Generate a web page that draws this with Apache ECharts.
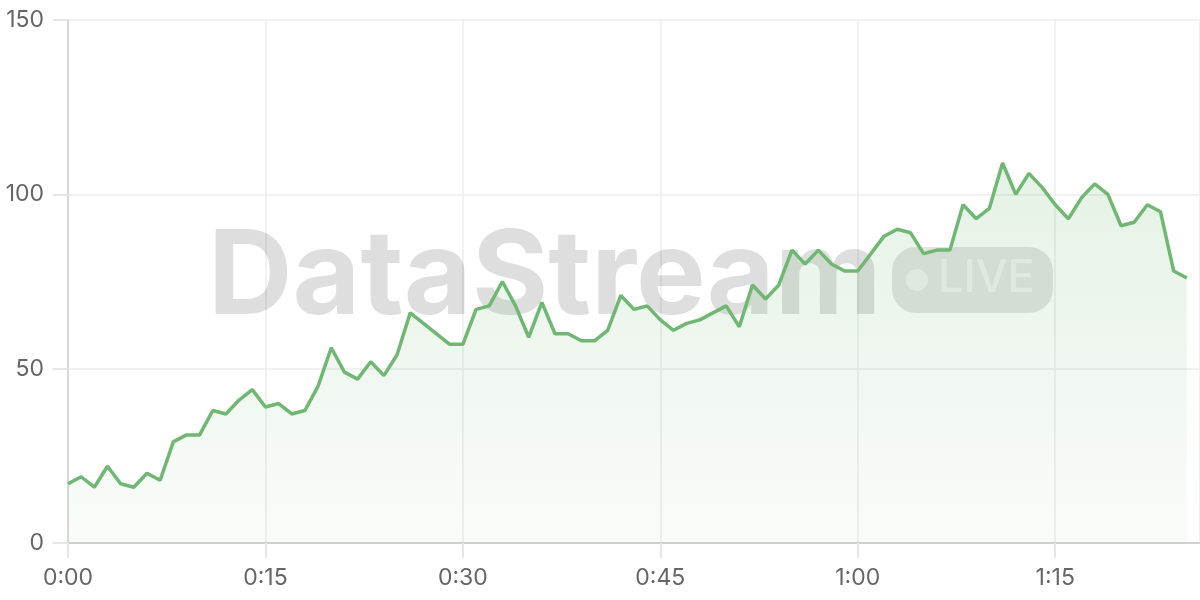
<!DOCTYPE html>
<html>
<head>
<meta charset="utf-8">
<script src="https://cdn.jsdelivr.net/npm/echarts@6/dist/echarts.min.js"></script>
<style>
  html, body { margin: 0; padding: 0; background: #ffffff; }
  #chart { width: 1200px; height: 600px; }
</style>
</head>
<body>
<div id="chart"></div>
<script>
// minutes since start
const minutes = [
  0,1,2,3,4,5,6,7,8,9,10,11,12,13,14,15,16,17,18,19,20,21,22,23,24,25,26,27,28,29,
  30,31,32,33,34,35,36,37,38,39,40,41,42,43,44,45,46,47,48,49,50,51,52,53,54,55,56,57,58,59,
  60,61,62,63,64,65,66,67,68,69,70,71,72,73,74,75,76,77,78,79,80,81,82,83,84,85
];
const values = [
  17,19,16,22,17,16,20,18,29,31,31,38,37,41,44,39,40,37,38,45,56,49,47,52,48,54,66,63,60,57,
  57,67,68,75,68,59,69,60,60,58,58,61,71,67,68,64,61,63,64,66,68,62,74,70,74,84,80,84,80,78,
  78,83,88,90,89,83,84,84,97,93,96,109,100,106,102,97,93,99,103,100,91,92,97,95,78,76
];
const yTicks = [0, 50, 100, 150];
const xTickMinutes = [0, 15, 30, 45, 60, 75];

const seriesData = minutes.map((m, i) => [m, values[i]]);
function fmtTime(m) {
  const h = Math.floor(m / 60);
  const mm = m % 60;
  return h + ':' + (mm < 10 ? '0' : '') + mm;
}

const chart = echarts.init(document.getElementById('chart'), null, { renderer: 'canvas' });
const FONT = 'Inter, "Noto Sans", sans-serif';
chart.setOption({
  animation: false,
  backgroundColor: '#ffffff',
  grid: { left: 68, right: 0, top: 20, bottom: 57, containLabel: false },
  xAxis: {
    type: 'value',
    min: 0,
    max: 86,
    interval: 15,
    axisLine: { show: true, lineStyle: { color: '#d0d0d0', width: 2 } },
    axisTick: { show: true, length: 15, lineStyle: { color: '#e6e6e6', width: 2 } },
    splitLine: { show: true, lineStyle: { color: '#ececec', width: 1.5 } },
    axisLabel: {
      margin: 24,
      color: '#666666',
      fontSize: 23,
      fontFamily: FONT,
      showMaxLabel: false,
      formatter: function (v) { return xTickMinutes.indexOf(v) >= 0 ? fmtTime(v) : ''; }
    }
  },
  yAxis: {
    type: 'value',
    min: 0,
    max: 150,
    interval: 50,
    axisLine: { show: true, lineStyle: { color: '#d8d8d8', width: 2 } },
    axisTick: { show: true, length: 15, lineStyle: { color: '#e6e6e6', width: 2 } },
    splitLine: { show: true, lineStyle: { color: '#ececec', width: 1.5 } },
    axisLabel: {
      margin: 24,
      color: '#666666',
      fontSize: 23,
      fontFamily: FONT,
      formatter: function (v) { return yTicks.indexOf(v) >= 0 ? String(v) : ''; }
    }
  },
  graphic: [
    {
      type: 'text',
      z: 1,
      left: 208,
      top: 220,
      style: {
        text: 'DataStream',
        font: 'bold 117px Inter, Roboto, sans-serif',
        fill: 'rgba(0,0,0,0.13)'
      }
    },
    {
      type: 'rect',
      z: 1,
      shape: { x: 892, y: 247, width: 161, height: 66, r: 24 },
      style: { fill: 'rgba(0,0,0,0.11)' }
    },
    {
      type: 'circle',
      z: 1,
      shape: { cx: 917, cy: 280, r: 11 },
      style: { fill: 'rgba(255,255,255,0.5)' }
    },
    {
      type: 'text',
      z: 1,
      left: 938,
      top: 256,
      style: {
        text: 'LIVE',
        font: '500 45px Inter, sans-serif',
        fill: 'rgba(255,255,255,0.5)'
      }
    }
  ],
  series: [{
    type: 'line',
    data: seriesData,
    showSymbol: false,
    smooth: false,
    z: 3,
    lineStyle: { color: '#70b773', width: 3.5 },
    itemStyle: { color: '#70b773' },
    areaStyle: {
      color: new echarts.graphic.LinearGradient(0, 0, 0, 1, [
        { offset: 0, color: 'rgba(109,181,111,0.25)' },
        { offset: 1, color: 'rgba(109,181,111,0.06)' }
      ])
    }
  }]
});
</script>
</body>
</html>
